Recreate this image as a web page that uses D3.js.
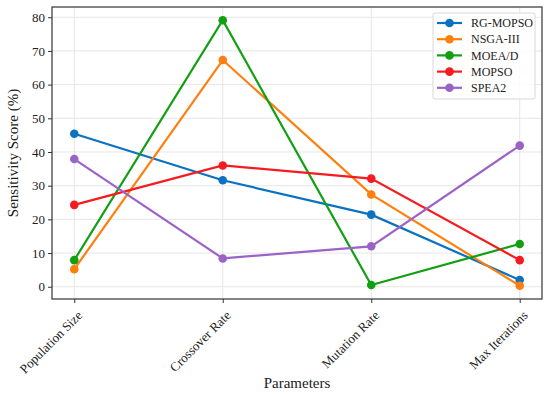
<!DOCTYPE html>
<html>
<head>
<meta charset="utf-8">
<script src="https://cdn.jsdelivr.net/npm/d3@7"></script>
<style>
  body { margin: 0; background: #fff; }
  text { font-family: "Liberation Serif", "Times New Roman", serif; }
</style>
</head>
<body>
<div id="chart"></div>
<script>
(function () {

  const params = ['Population Size', 'Crossover Rate', 'Mutation Rate', 'Max Iterations'];
  const methods = ['RG-MOPSO', 'NSGA-III', 'MOEA/D', 'MOPSO', 'SPEA2'];
  const rgMopso = [45.4, 31.6, 21.4, 2.0];
  const nsga3 = [5.2, 67.3, 27.4, 0.3];
  const moead = [7.9, 79.1, 0.5, 12.7];
  const mopso = [24.3, 36.0, 32.1, 7.9];
  const spea2 = [37.9, 8.4, 12.0, 41.9];
  const yTicks = [0, 10, 20, 30, 40, 50, 60, 70, 80];
  const colors = ['#0a72c0', '#ff7f0e', '#12a012', '#f41c20', '#9b63c6'];

  const seriesValues = [rgMopso, nsga3, moead, mopso, spea2];
  const series = methods.map((name, i) => ({
    name,
    color: colors[i],
    values: seriesValues[i].map((v, j) => ({ p: params[j], v }))
  }));

  const width = 550,
    height = 396,
    margin = { top: 7, right: 8, bottom: 97, left: 52 },
    chartWidth = width - margin.left - margin.right,
    chartHeight = height - margin.top - margin.bottom;

  // matplotlib-style 5% margins on both axes
  const x = d3.scalePoint().domain(params).range([0, chartWidth]).padding(0.15);
  const all = seriesValues.flat();
  const lo = d3.min(all), hi = d3.max(all), pad = (hi - lo) * 0.05;
  const y = d3.scaleLinear().domain([lo - pad, hi + pad]).range([chartHeight, 0]);

  const svg = d3.select('#chart').append('svg')
    .attr('width', width)
    .attr('height', height);

  const chart = svg.append('g')
    .attr('transform', `translate(${margin.left}, ${margin.top})`);

  // grid
  chart.append('g').selectAll('line').data(yTicks).enter().append('line')
    .attr('x1', 0).attr('x2', chartWidth)
    .attr('y1', d => y(d)).attr('y2', d => y(d))
    .attr('stroke', '#e6e6e6').attr('stroke-width', 1);
  chart.append('g').selectAll('line').data(params).enter().append('line')
    .attr('y1', 0).attr('y2', chartHeight)
    .attr('x1', d => x(d)).attr('x2', d => x(d))
    .attr('stroke', '#e6e6e6').attr('stroke-width', 1);

  // axes
  const xAxis = chart.append('g')
    .attr('transform', `translate(0, ${chartHeight})`)
    .call(d3.axisBottom(x).tickSize(4).tickSizeOuter(0));
  xAxis.select('.domain').remove();
  xAxis.selectAll('line').attr('stroke', '#333');
  xAxis.selectAll('text')
    .style('font-size', '13px')
    .attr('fill', '#222')
    .attr('text-anchor', 'end')
    .attr('dy', '0.35em')
    .attr('y', 0)
    .attr('transform', 'translate(5, 14) rotate(-45)');

  const yAxis = chart.append('g')
    .call(d3.axisLeft(y).tickValues(yTicks).tickSize(4).tickSizeOuter(0));
  yAxis.select('.domain').remove();
  yAxis.selectAll('line').attr('stroke', '#333');
  yAxis.selectAll('text').style('font-size', '13px').attr('fill', '#222').attr('x', -7);

  // frame
  chart.append('rect')
    .attr('width', chartWidth).attr('height', chartHeight)
    .attr('fill', 'none').attr('stroke', '#333').attr('stroke-width', 1.2);

  // lines
  const line = d3.line().x(d => x(d.p)).y(d => y(d.v));
  const g = chart.selectAll('.serie').data(series).enter().append('g').attr('class', 'serie');
  g.append('path')
    .attr('d', d => line(d.values))
    .attr('fill', 'none')
    .attr('stroke', d => d.color)
    .attr('stroke-width', 2.2);
  g.selectAll('circle').data(d => d.values.map(v => ({ ...v, color: d.color }))).enter().append('circle')
    .attr('cx', d => x(d.p)).attr('cy', d => y(d.v)).attr('r', 4.3)
    .attr('fill', d => d.color);

  // legend
  const legend = chart.append('g').attr('transform', `translate(${433 - margin.left}, ${13 - margin.top})`);
  legend.append('rect')
    .attr('width', 102).attr('height', 86).attr('rx', 2)
    .attr('fill', '#fff').attr('fill-opacity', 0.85)
    .attr('stroke', '#d8d8d8');
  const item = legend.selectAll('.item').data(series).enter().append('g')
    .attr('transform', (d, i) => `translate(0, ${10 + i * 16.2})`);
  item.append('line').attr('x1', 4).attr('x2', 29).attr('stroke', d => d.color).attr('stroke-width', 2.2);
  item.append('circle').attr('cx', 16.5).attr('r', 4.3).attr('fill', d => d.color);
  item.append('text').attr('x', 38).attr('dy', '0.35em')
    .style('font-size', '12px').attr('fill', '#222')
    .text(d => d.name);

  // axis titles
  svg.append('text')
    .attr('x', margin.left + chartWidth / 2).attr('y', 388)
    .attr('text-anchor', 'middle').style('font-size', '15px').attr('fill', '#222')
    .text('Parameters');
  svg.append('text')
    .attr('transform', `translate(18, ${margin.top + chartHeight / 2}) rotate(-90)`)
    .attr('text-anchor', 'middle').style('font-size', '15px').attr('fill', '#222')
    .text('Sensitivity Score (%)');

})();
</script>
</body>
</html>
